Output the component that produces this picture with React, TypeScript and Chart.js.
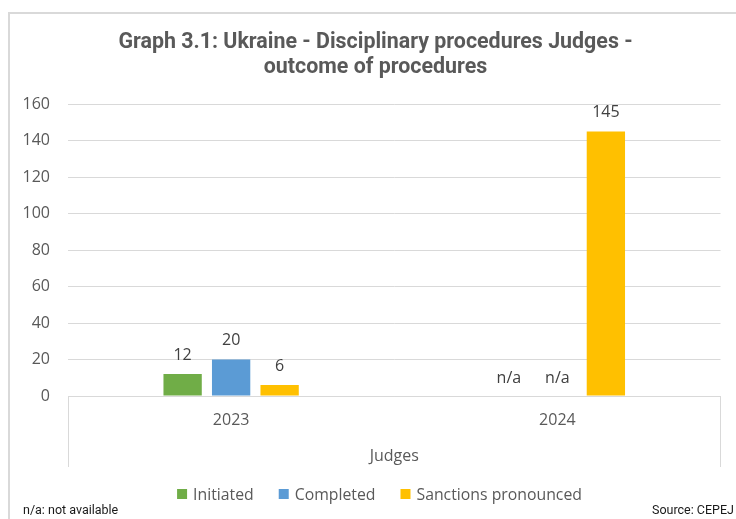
import React, { useEffect, useRef } from "react";
import { Chart, registerables } from "chart.js";

Chart.register(...registerables);

const titleLines = ["Graph 3.1: Ukraine - Disciplinary procedures Judges -", "outcome of procedures"];
const categories = ["2023", "2024"];
const groupLabel = "Judges";
const seriesNames = ["Initiated", "Completed", "Sanctions pronounced"];
const initiated: (number | null)[] = [12, null];
const completed: (number | null)[] = [20, null];
const sanctions: (number | null)[] = [6, 145];
const seriesColors = ["#70ad47", "#5b9bd5", "#ffc000"];
const yMin = 0;
const yMax = 160;
const yStep = 20;
const missingLabel = "n/a";
const footLeft = "n/a: not available";
const footRight = "Source: CEPEJ";

const TEXT = "#595959";
const GRID = "#d9d9d9";
const BODY_FONT = "'Open Sans', sans-serif";
const TITLE_FONT = "Roboto, sans-serif";

const decorPlugin = {
  id: "decor",
  beforeDraw(chart: any) {
    const ctx = chart.ctx;
    ctx.save();
    ctx.fillStyle = "#ffffff";
    ctx.fillRect(0, 0, chart.width, chart.height);
    ctx.strokeStyle = GRID;
    ctx.lineWidth = 2;
    ctx.beginPath();
    ctx.moveTo(9, chart.height + 5);
    ctx.lineTo(9, 13);
    ctx.lineTo(chart.width + 5, 13);
    ctx.stroke();
    ctx.restore();
  },
  afterDraw(chart: any) {
    const ctx = chart.ctx;
    const x = chart.scales.x;
    ctx.save();
    // title
    ctx.fillStyle = TEXT;
    ctx.font = `bold 21.4px ${TITLE_FONT}`;
    ctx.textAlign = "center";
    ctx.textBaseline = "alphabetic";
    ctx.fillText(titleLines[0], 375.5, 47.5);
    ctx.fillText(titleLines[1], 375.5, 73.3);

    // multi-level axis side lines
    ctx.strokeStyle = GRID;
    ctx.lineWidth = 1;
    ctx.beginPath();
    const l = Math.round(x.left) + 0.5;
    const r = Math.round(x.right) - 0.5;
    ctx.moveTo(l, x.top);
    ctx.lineTo(l, 467);
    ctx.moveTo(r, x.top);
    ctx.lineTo(r, 467);
    ctx.stroke();

    // legend
    ctx.font = `15.8px ${BODY_FONT}`;
    ctx.textBaseline = "middle";
    ctx.textAlign = "left";
    const box = 10;
    const gapBox = 6;
    const gapItem = 25;
    const items = chart.data.datasets.map((d: any) => ({ label: d.label, color: d.backgroundColor }));
    const widths = items.map((it: any) => box + gapBox + ctx.measureText(it.label).width);
    const total = widths.reduce((a: number, b: number) => a + b, 0) + gapItem * (items.length - 1);
    let cx = 379.5 - total / 2;
    const ly = 494;
    items.forEach((it: any, i: number) => {
      ctx.fillStyle = it.color;
      ctx.fillRect(cx, ly - 5, box, box);
      ctx.fillStyle = TEXT;
      ctx.fillText(it.label, cx + box + gapBox, ly + 1);
      cx += widths[i] + gapItem;
    });

    // footer
    ctx.fillStyle = "#1a1a1a";
    ctx.font = `12.5px ${TITLE_FONT}`;
    ctx.textAlign = "left";
    ctx.fillText(footLeft, 23, 511);
    ctx.textAlign = "right";
    ctx.fillText(footRight, 734, 511);
    ctx.restore();
  },
  afterDatasetsDraw(chart: any) {
    const ctx = chart.ctx;
    const y = chart.scales.y;
    ctx.save();
    ctx.fillStyle = "#404040";
    ctx.font = `16px ${BODY_FONT}`;
    ctx.textAlign = "center";
    ctx.textBaseline = "middle";
    chart.data.datasets.forEach((ds: any, di: number) => {
      const meta = chart.getDatasetMeta(di);
      meta.data.forEach((el: any, i: number) => {
        const v = ds.data[i];
        if (v === null || v === undefined) {
          const px = chart.scales.x.getPixelForValue(i);
          const xx = Number.isFinite(el.x) ? el.x : px;
          ctx.fillText(missingLabel, xx, y.getPixelForValue(0) - 18);
        } else {
          ctx.fillText(String(v), el.x, el.y - 19);
        }
      });
    });
    ctx.restore();
  },
};

function App() {
  const ref = useRef<HTMLCanvasElement | null>(null);
  useEffect(() => {
    if (!ref.current) return;
    const series = [initiated, completed, sanctions];
    const chart = new Chart(ref.current, {
      type: "bar",
      data: {
        labels: categories,
        datasets: series.map((data, i) => ({
          label: seriesNames[i],
          data,
          backgroundColor: seriesColors[i],
          borderWidth: 0,
          categoryPercentage: 0.446,
          barPercentage: 0.79,
        })),
      },
      options: {
        responsive: false,
        animation: false,
        layout: { padding: { top: 104, left: 10, right: 15.5, bottom: 0 } },
        plugins: {
          legend: { display: false },
          title: { display: false },
          tooltip: { enabled: false },
        },
        scales: {
          x: {
            grid: { display: false, drawTicks: false },
            border: { display: true, color: GRID, width: 1 },
            ticks: { color: TEXT, font: { family: BODY_FONT, size: 16 }, padding: 15 },
            title: {
              display: true,
              text: groupLabel,
              color: TEXT,
              font: { family: BODY_FONT, size: 16 },
              padding: { top: 0, bottom: 53 },
            },
            afterFit(scale: any) {
              scale.height = 519 - 396;
            },
          },
          y: {
            min: yMin,
            max: yMax,
            ticks: { stepSize: yStep, color: TEXT, font: { family: BODY_FONT, size: 16 }, padding: 18 },
            grid: { color: GRID, lineWidth: 1, drawTicks: false },
            border: { display: false },
            afterFit(scale: any) {
              scale.width = 58;
            },
          },
        },
      },
      plugins: [decorPlugin],
    });
    return () => chart.destroy();
  }, []);
  return (
    <div style={{ position: "absolute", left: 0, top: 0, width: 736, height: 519, background: "#fff" }}>
      <canvas ref={ref} width={736} height={519} style={{ display: "block" }} />
    </div>
  );
}

export default App;
